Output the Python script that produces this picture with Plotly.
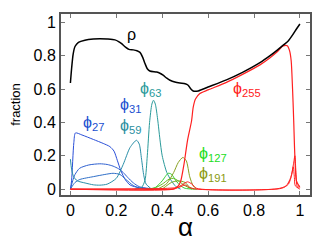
import plotly.graph_objects as go

# ---- data ----
alpha_rho = [0, 0.005, 0.012, 0.02, 0.035, 0.063, 0.1, 0.128, 0.16, 0.194, 0.21, 0.223, 0.24, 0.255,
             0.274, 0.29, 0.303, 0.315, 0.325, 0.335, 0.346, 0.376, 0.39, 0.404, 0.42, 0.434, 0.455,
             0.477, 0.5, 0.513, 0.525, 0.535, 0.557, 0.6, 0.68, 0.75, 0.826, 0.87, 0.9, 0.93, 0.95,
             0.971, 0.985, 1.0]
rho = [0.636, 0.72, 0.81, 0.855, 0.88, 0.893, 0.9, 0.902, 0.9, 0.895, 0.885, 0.872, 0.852, 0.838,
       0.835, 0.83, 0.82, 0.79, 0.753, 0.722, 0.708, 0.702, 0.695, 0.683, 0.665, 0.653, 0.642,
       0.636, 0.632, 0.623, 0.6, 0.588, 0.589, 0.612, 0.655, 0.7, 0.758, 0.8, 0.832, 0.866, 0.89,
       0.93, 0.96, 0.99]

alpha_p27 = [0, 0.005, 0.015, 0.022, 0.05, 0.1, 0.143, 0.172, 0.19, 0.205, 0.22, 0.24, 0.26, 0.3, 0.35, 0.4]
phi27 = [0.0, 0.05, 0.28, 0.337, 0.325, 0.298, 0.274, 0.255, 0.228, 0.17, 0.11, 0.055, 0.025, 0.008, 0.002, 0.0]

alpha_p31 = [0, 0.01, 0.02, 0.04, 0.08, 0.128, 0.16, 0.186, 0.21, 0.23, 0.25, 0.274, 0.3, 0.35]
phi31 = [0.0, 0.05, 0.088, 0.125, 0.145, 0.152, 0.148, 0.138, 0.122, 0.1, 0.07, 0.038, 0.015, 0.003]

alpha_p31b = [0, 0.02, 0.041, 0.1, 0.15, 0.186, 0.216, 0.24, 0.274, 0.3, 0.35]
phi31b = [0.0, 0.04, 0.058, 0.075, 0.088, 0.095, 0.088, 0.06, 0.022, 0.008, 0.0]

alpha_p59 = [0, 0.005, 0.014, 0.03, 0.064, 0.1, 0.128, 0.16, 0.2, 0.23, 0.26, 0.288, 0.3, 0.31, 0.32, 0.33, 0.35]
phi59 = [0.18, 0.12, 0.075, 0.05, 0.037, 0.026, 0.024, 0.03, 0.065, 0.148, 0.25, 0.293, 0.27, 0.18, 0.08, 0.03, 0.005]

alpha_p63 = [0.28, 0.31, 0.325, 0.335, 0.345, 0.355, 0.362, 0.37, 0.38, 0.39, 0.4, 0.42, 0.44, 0.46, 0.48]
phi63 = [0.0, 0.01, 0.054, 0.2, 0.4, 0.51, 0.533, 0.51, 0.42, 0.3, 0.2, 0.1, 0.05, 0.015, 0.0]

alpha_p127 = [0.33, 0.37, 0.4, 0.426, 0.44, 0.46, 0.48, 0.5, 0.55]
phi127 = [0.0, 0.01, 0.05, 0.095, 0.09, 0.05, 0.02, 0.005, 0.0]

alpha_p127b = [0.36, 0.4, 0.43, 0.45, 0.48, 0.5, 0.53]
phi127b = [0.0, 0.03, 0.06, 0.065, 0.04, 0.02, 0.0]

alpha_p191 = [0.38, 0.42, 0.45, 0.47, 0.49, 0.505, 0.52, 0.535, 0.55]
phi191 = [0.0, 0.034, 0.1, 0.16, 0.19, 0.17, 0.074, 0.02, 0.0]

alpha_p191b = [0.4, 0.44, 0.47, 0.5, 0.52, 0.54]
phi191b = [0.0, 0.04, 0.05, 0.04, 0.01, 0.0]

alpha_p255 = [0, 0.3, 0.45, 0.47, 0.48, 0.495, 0.51, 0.528, 0.535, 0.545, 0.564, 0.6, 0.68, 0.75, 0.826,
              0.87, 0.9, 0.927, 0.945, 0.955, 0.962, 0.968, 0.973, 0.978, 0.985, 1.0]
phi255 = [0.0, 0.0, 0.002, 0.02, 0.045, 0.15, 0.29, 0.41, 0.49, 0.54, 0.573, 0.595, 0.64, 0.688, 0.745,
          0.788, 0.822, 0.858, 0.86, 0.83, 0.77, 0.6, 0.41, 0.2, 0.05, 0.01]

alpha_r2 = [0, 0.45, 0.48, 0.51, 0.53, 0.55, 0.9, 0.94, 0.96, 0.972, 0.978, 0.982, 0.986, 0.99, 1.0]
phi_r2 = [0.0, 0.0, 0.02, 0.044, 0.03, 0.005, 0.002, 0.02, 0.07, 0.15, 0.2, 0.12, 0.03, 0.01, 0.02]

alpha_r3 = [0, 0.47, 0.5, 0.52, 0.55, 0.92, 0.95, 0.965, 0.971, 0.976, 0.98, 1.0]
phi_r3 = [0.0, 0.01, 0.025, 0.01, 0.0, 0.005, 0.03, 0.09, 0.134, 0.07, 0.02, 0.0]

x_ticks = [0, 0.2, 0.4, 0.6, 0.8, 1]
x_ticklabels = ["0", "0.2", "0.4", "0.6", "0.8", "1"]
y_ticks = [0, 0.2, 0.4, 0.6, 0.8, 1]
y_ticklabels = ["0", "0.2", "0.4", "0.6", "0.8", "1"]

labels = [
    ("ρ", 0.267, 0.93, "black"),
    ("ϕ<sub>63</sub>", 0.35, 0.60, "#2a9a9a"),
    ("ϕ<sub>31</sub>", 0.262, 0.50, "#2050d0"),
    ("ϕ<sub>59</sub>", 0.262, 0.375, "#2a8f9f"),
    ("ϕ<sub>27</sub>", 0.10, 0.395, "#2050d0"),
    ("ϕ<sub>127</sub>", 0.62, 0.21, "#22dd22"),
    ("ϕ<sub>191</sub>", 0.62, 0.085, "#8a9a10"),
    ("ϕ<sub>255</sub>", 0.77, 0.595, "#ff2020"),
]

# ---- figure ----
fig = go.Figure()
series = [
    (alpha_p27, phi27, "#2a4fd8", 1),
    (alpha_p31, phi31, "#2d5fd0", 1),
    (alpha_p31b, phi31b, "#2f6fc8", 1),
    (alpha_p59, phi59, "#2a8fa8", 1),
    (alpha_p63, phi63, "#2a9a9a", 1),
    (alpha_p127, phi127, "#33cc33", 1),
    (alpha_p127b, phi127b, "#66bb22", 1),
    (alpha_p191, phi191, "#88a020", 1),
    (alpha_p191b, phi191b, "#77aa20", 1),
    (alpha_r2, phi_r2, "#ff2020", 1),
    (alpha_r3, phi_r3, "#ff2020", 1),
    (alpha_p255, phi255, "#ff2020", 1.2),
    (alpha_rho, rho, "black", 1.5),
]
for xs, ys, col, w in series:
    fig.add_trace(go.Scatter(x=xs, y=ys, mode="lines",
                             line=dict(color=col, width=w, shape="spline", smoothing=0.7),
                             showlegend=False, hoverinfo="skip"))

for txt, xa, ya, col in labels:
    fig.add_annotation(x=xa, y=ya, text=txt, showarrow=False,
                       font=dict(color=col, size=16, family="Liberation Sans, Arial"))

axis_common = dict(showline=True, linecolor="#555555", linewidth=2, mirror="ticks",
                   ticks="inside", ticklen=4, tickwidth=1, tickcolor="#777777",
                   showgrid=False, zeroline=False, automargin=False,
                   tickfont=dict(size=16, color="black", family="Liberation Sans, Arial"))

fig.update_xaxes(range=[-0.041, 1.044], tickvals=x_ticks, ticktext=x_ticklabels,
                 title=dict(text="α", font=dict(size=26, color="black"), standoff=0),
                 **axis_common)
fig.update_yaxes(range=[-0.035, 1.05], tickvals=y_ticks, ticktext=y_ticklabels,
                 title=dict(text="fraction", font=dict(size=13, color="black"), standoff=18),
                 **axis_common)

# the page body adds an 8px offset; margins compensate so the frame lands at the reference spot
fig.update_layout(width=321, height=242, margin=dict(l=53, r=19, t=6, b=55),
                  plot_bgcolor="white", paper_bgcolor="white",
                  font=dict(family="Liberation Sans, Arial"))

fig.write_html("out.html")
